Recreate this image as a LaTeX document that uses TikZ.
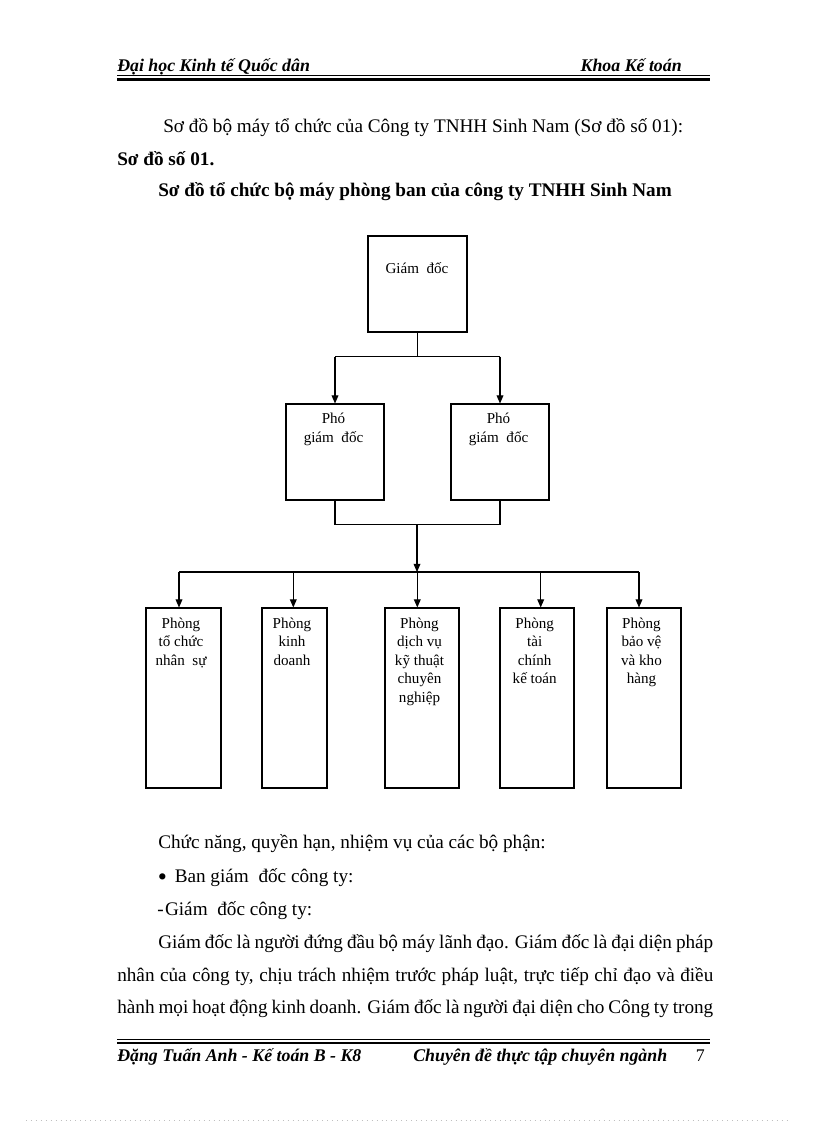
\documentclass[tikz,border=0pt]{standalone}
\usepackage{fontspec}
\setmainfont{Liberation Serif}
\usetikzlibrary{arrows.meta}
\newdimen\pxu \pxu=0.729pt
\newcommand{\lblt}[1]{\begin{tabular}[t]{@{}c@{}}#1\end{tabular}}
\begin{document}
\begin{tikzpicture}[x=0.729pt,y=-0.729pt,
  box/.style={draw, line width=0.75pt, inner sep=0pt, rectangle},
  lbl/.style={font=\fontsize{11}{13.5}\selectfont, inner sep=0pt, anchor=base},
  arr/.style={line width=0.75pt, -{Triangle[length=6pt,width=5pt]}},
  ln/.style={line width=0.75pt},
  body/.style={font=\fontsize{14}{16}\selectfont, inner sep=0pt, anchor=base west},
  bodyb/.style={body, font=\fontsize{14}{16}\selectfont\bfseries},
  hdr/.style={font=\fontsize{13}{15}\selectfont\bfseries\itshape, inner sep=0pt},
  ftr/.style={font=\fontsize{13}{15}\selectfont\bfseries\itshape, inner sep=0pt}]
\fill[white] (0,0) rectangle (816,1123);
\useasboundingbox (0,0) rectangle (816,1123);

% header
\node[hdr, anchor=base west] (h1) at (117,72) {Đại học Kinh tế Quốc dân};
\node[hdr, anchor=base east] (h2) at (682,72) {Khoa Kế toán};
\draw[line width=0.6pt] (117,75.5) -- (710,75.5);
\draw[line width=1.8pt] (117,79.5) -- (710,79.5);

% intro texts
\node[body] (t1) at (163,133) {Sơ đồ bộ máy tổ chức của Công ty TNHH Sinh Nam (Sơ đồ số 01):};
\node[bodyb] (t2) at (117,166) {Sơ đồ số 01.};
\node[bodyb] (t3) at (158,197) {Sơ đồ tổ chức bộ máy phòng ban của công ty TNHH Sinh Nam};

% chart boxes
\node[box, minimum width=99\pxu, minimum height=96\pxu] (gd) at (417.5,284) {};
\node[box, minimum width=98\pxu, minimum height=96\pxu] (p1) at (335,452) {};
\node[box, minimum width=98\pxu, minimum height=96\pxu] (p2) at (500,452) {};
\node[box, minimum width=75\pxu, minimum height=180\pxu] (b1) at (183.5,698) {};
\node[box, minimum width=65\pxu, minimum height=180\pxu] (b2) at (294.5,698) {};
\node[box, minimum width=74\pxu, minimum height=180\pxu] (b3) at (422,698) {};
\node[box, minimum width=74\pxu, minimum height=180\pxu] (b4) at (537,698) {};
\node[box, minimum width=74\pxu, minimum height=180\pxu] (b5) at (644,698) {};

% labels
\node[lbl] (gdt) at (417,273.5) {Giám~ đốc};
\node[lbl] (p1t) at (333.5,423.5) {\lblt{Phó\\giám~ đốc}};
\node[lbl] (p2t) at (498.5,423.5) {\lblt{Phó\\giám~ đốc}};
\node[lbl] (b1t) at (181,628.3) {\lblt{Phòng\\tổ chức\\nhân~ sự}};
\node[lbl] (b2t) at (292,628.3) {\lblt{Phòng\\kinh\\doanh}};
\node[lbl] (b3t) at (419.5,628.3) {\lblt{Phòng\\dịch vụ\\kỹ thuật\\chuyên\\nghiệp}};
\node[lbl] (b4t) at (534.7,628.3) {\lblt{Phòng\\tài\\chính\\kế toán}};
\node[lbl] (b5t) at (641.5,628.3) {\lblt{Phòng\\bảo vệ\\và kho\\hàng}};

% connectors top
\draw[ln] (gd.south) -- ++(0,24) coordinate (j1);
\draw[ln] (p1.north |- j1) -- (p2.north |- j1);
\draw[arr] (p1.north |- j1) -- (p1.north);
\draw[arr] (p2.north |- j1) -- (p2.north);
% connectors middle
\draw[ln] (p1.south) -- ++(0,24) coordinate (k1) -- (p2.south |- k1) -- (p2.south);
\coordinate (k) at (417,524);
\coordinate (bus) at (417,572);
\draw[arr] (k) -- (bus);
% bus
\coordinate (a1) at (179,572);
\coordinate (a2) at (293.3,572);
\coordinate (a3) at (417.3,572);
\coordinate (a4) at (540.7,572);
\coordinate (a5) at (639,572);
\draw[ln] (a1) -- (a5);
\draw[arr] (a1) -- (a1 |- b1.north);
\draw[arr] (a2) -- (a2 |- b2.north);
\draw[arr] (a3) -- (a3 |- b3.north);
\draw[arr] (a4) -- (a4 |- b4.north);
\draw[arr] (a5) -- (a5 |- b5.north);

% lower texts
\node[body] (c1) at (158,848) {Chức năng, quyền hạn, nhiệm vụ của các bộ phận:};
\node[body] (c2) at (157.5,882) {\makebox[17\pxu][l]{\raisebox{-2.2pt}{\fontsize{19}{19}\selectfont •}}Ban giám~ đốc công ty:};
\node[body] (c3) at (157,915) {-\hspace{1pt}Giám~ đốc công ty:};
\node[body] (c4) at (158,948) {\makebox[555\pxu][s]{Giám đốc là người đứng đầu bộ máy lãnh đạo. Giám đốc là đại diện pháp}};
\node[body] (c5) at (117,981) {\makebox[596\pxu][s]{nhân của công ty, chịu trách nhiệm trước pháp luật, trực tiếp chỉ đạo và điều}};
\node[body] (c6) at (117,1013) {\makebox[596\pxu][s]{hành mọi hoạt động kinh doanh. Giám đốc là người đại diện cho Công ty trong}};

% footer
\draw[line width=0.6pt] (117,1039) -- (710,1039);
\draw[line width=1.8pt] (117,1042.8) -- (710,1042.8);
\node[ftr, anchor=base west] (f1) at (117,1061) {Đặng Tuấn Anh - Kế toán B - K8};
\node[ftr, anchor=base west] (f2) at (413,1061) {Chuyên đề thực tập chuyên ngành};
\node[font=\fontsize{13}{15}\selectfont, inner sep=0pt, anchor=base east] (f3) at (705,1061) {7};

\draw[gray!50, line width=0.4pt, dash pattern=on 0.6pt off 3pt] (26,1120) -- (791,1120);
\end{tikzpicture}
\end{document}
